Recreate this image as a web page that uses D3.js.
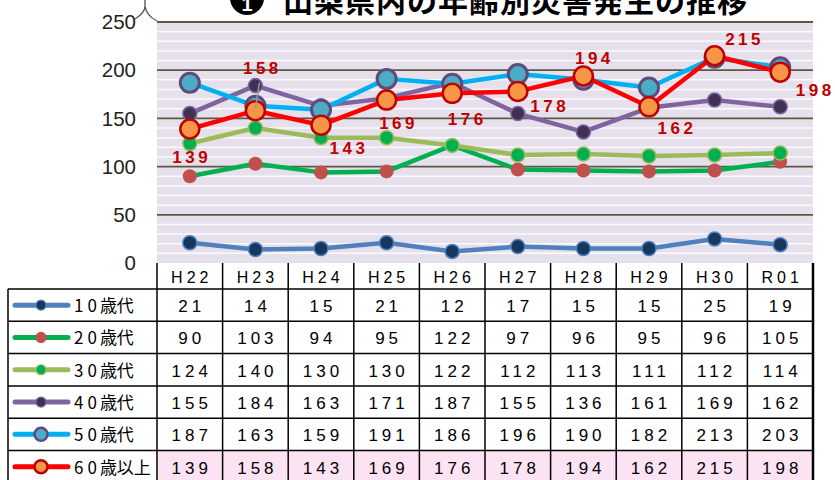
<!DOCTYPE html>
<html>
<head>
<meta charset="utf-8">
<script src="https://cdn.jsdelivr.net/npm/d3@7"></script>
<style>
body { margin: 0; background: #fff; }
svg { display: block; }
</style>
</head>
<body>
<script>
// データ
const years = ["H22", "H23", "H24", "H25", "H26", "H27", "H28", "H29", "H30", "R01"];
const ages = ["10", "20", "30", "40", "50", "60"];
const suffix = ["歳代", "歳代", "歳代", "歳代", "歳代", "歳以上"];
const s10 = [21, 14, 15, 21, 12, 17, 15, 15, 25, 19];
const s20 = [90, 103, 94, 95, 122, 97, 96, 95, 96, 105];
const s30 = [124, 140, 130, 130, 122, 112, 113, 111, 112, 114];
const s40 = [155, 184, 163, 171, 187, 155, 136, 161, 169, 162];
const s50 = [187, 163, 159, 191, 186, 196, 190, 182, 213, 203];
const s60 = [139, 158, 143, 169, 176, 178, 194, 162, 215, 198];
const yTicks = [0, 50, 100, 150, 200, 250];

const width = 835, height = 480;
const plotL = 157, plotR = 813, plotT = 22, plotB = 263;
const rowH = 32.3, headH = 26;

// 系列の見た目
const styles = [
  { line: "#4f81bd", fill: "#17375e", stroke: "#4f81bd", r: 7, sw: 1.5, lw: 4.5 },
  { line: "#00b050", fill: "#c0504d", stroke: "#c0504d", r: 7, sw: 0, lw: 4.5 },
  { line: "#9bbb59", fill: "#00b050", stroke: "#9bbb59", r: 7, sw: 1.5, lw: 4.5 },
  { line: "#8064a2", fill: "#3f3151", stroke: "#8064a2", r: 7, sw: 1.5, lw: 4.5 },
  { line: "#00b0f0", fill: "#4bacc6", stroke: "#604a7b", r: 9.5, sw: 3, lw: 4.5 },
  { line: "#ff0000", fill: "#f79646", stroke: "#c00000", r: 9.5, sw: 2.5, lw: 4.5 }
];
const series = [s10, s20, s30, s40, s50, s60];

// 60歳以上ラベルのずらし
const labelOff = [[0, 28], [5, -43], [26, 23], [10, 23], [13, 26], [30, 15], [9, -18], [26, 21], [28, -17], [33, 18]];

const svg = d3.select("body").append("svg")
    .attr("width", width)
    .attr("height", height);

const x = d3.scaleBand().domain(years).range([plotL, plotR]);
const y = d3.scaleLinear().domain([0, 250]).range([plotB, plotT]);

// 背景
svg.append("rect")
    .attr("x", plotL).attr("y", plotT)
    .attr("width", plotR - plotL).attr("height", plotB - plotT)
    .attr("fill", "#e5e0eb");

// 細いグリッド
svg.append("g").selectAll("line")
    .data(d3.range(10, 250, 10).filter(v => v % 50 !== 0))
    .enter().append("line")
    .attr("x1", plotL).attr("x2", plotR)
    .attr("y1", d => y(d)).attr("y2", d => y(d))
    .attr("stroke", "#fbfafc").attr("stroke-width", 1.5);

// 主グリッド
svg.append("g").selectAll("line")
    .data(yTicks.filter(v => v > 0))
    .enter().append("line")
    .attr("x1", plotL).attr("x2", plotR)
    .attr("y1", d => y(d)).attr("y2", d => y(d))
    .attr("stroke", "#5e5842").attr("stroke-width", 1.8);

// Y軸
const yAxis = svg.append("g")
    .attr("transform", `translate(${plotL - 21},0)`)
    .call(d3.axisLeft(y).tickValues(yTicks).tickSize(0).tickPadding(0));
yAxis.select(".domain").remove();
yAxis.selectAll("text")
    .attr("font-family", "'Liberation Sans', Arial, sans-serif")
    .attr("font-size", 21)
    .attr("textLength", d => String(d).length * 11.4)
    .attr("lengthAdjust", "spacingAndGlyphs")
    .attr("fill", "#222");

// 単位の欠け
svg.append("path")
    .attr("d", "M145,0 L145,6 C145,12 140,16 135,19 M145,6 C146,13 151,18 157,21")
    .attr("fill", "none").attr("stroke", "#555").attr("stroke-width", 1.3);

// タイトル
svg.append("circle").attr("cx", 247).attr("cy", -2).attr("r", 17).attr("fill", "#000");
svg.append("text").attr("x", 247).attr("y", 11)
    .attr("text-anchor", "middle").attr("fill", "#fff")
    .attr("font-family", "Arial, sans-serif").attr("font-weight", "bold").attr("font-size", 20)
    .text("1");
svg.append("text").attr("x", 283).attr("y", 12)
    .attr("font-family", "'Noto Sans CJK JP', sans-serif").attr("font-weight", "bold")
    .attr("font-size", 30).attr("letter-spacing", 1)
    .attr("fill", "#000")
    .text("山梨県内の年齢別災害発生の推移");

// 折れ線
const cx = (d, i) => x(years[i]) + x.bandwidth() / 2;
series.forEach((s, k) => {
  const st = styles[k];
  const line = d3.line().x((d, i) => cx(d, i)).y(d => y(d));
  svg.append("path").datum(s)
      .attr("d", line)
      .attr("fill", "none")
      .attr("stroke", st.line)
      .attr("stroke-width", st.lw)
      .attr("stroke-linejoin", "round");
  svg.append("g").selectAll("circle")
      .data(s).enter().append("circle")
      .attr("cx", cx).attr("cy", d => y(d))
      .attr("r", st.r)
      .attr("fill", st.fill)
      .attr("stroke", st.stroke)
      .attr("stroke-width", st.sw);
});

// 158 の引き出し線
svg.append("line")
    .attr("x1", cx(0, 1) + 4).attr("y1", y(s60[1]) - 28)
    .attr("x2", cx(0, 1)).attr("y2", y(s60[1]) - 2)
    .attr("stroke", "#999").attr("stroke-width", 1.5);

// 60歳以上ラベル
svg.append("g").selectAll("text")
    .data(s60).enter().append("text")
    .attr("x", (d, i) => cx(d, i) + labelOff[i][0] + 2)
    .attr("y", (d, i) => y(d) + labelOff[i][1])
    .attr("dy", "0.35em")
    .attr("text-anchor", "middle")
    .attr("font-family", "'Liberation Sans', Arial, sans-serif")
    .attr("font-weight", "bold").attr("font-size", 17)
    .attr("letter-spacing", 3.5)
    .attr("fill", "#c00000")
    .text(d => d);

// データ表
const tbl = svg.append("g");
const rowTop = plotB + headH;
const legL = 8;

tbl.append("rect")
    .attr("x", plotL).attr("y", rowTop + rowH * 5)
    .attr("width", plotR - plotL).attr("height", height - rowTop - rowH * 5)
    .attr("fill", "#fce3f4");

// 見出し
tbl.selectAll(".head").data(years).enter().append("text")
    .attr("x", d => x(d) + x.bandwidth() / 2 + 2)
    .attr("y", plotB + headH / 2 + 1)
    .attr("dy", "0.35em")
    .attr("text-anchor", "middle")
    .attr("font-family", "'Liberation Sans', Arial, sans-serif")
    .attr("font-size", 16).attr("letter-spacing", 4)
    .attr("fill", "#000")
    .text(d => d);

// 罫線
tbl.selectAll(".vl").data(years.concat(["end"])).enter().append("line")
    .attr("x1", (d, i) => plotL + i * x.bandwidth())
    .attr("x2", (d, i) => plotL + i * x.bandwidth())
    .attr("y1", plotB).attr("y2", height)
    .attr("stroke", "#000").attr("stroke-width", (d, i) => i === years.length ? 2.5 : 1.5);
tbl.append("line").attr("x1", legL).attr("x2", legL)
    .attr("y1", rowTop).attr("y2", height)
    .attr("stroke", "#000").attr("stroke-width", 1.5);
tbl.selectAll(".hl").data(d3.range(6)).enter().append("line")
    .attr("x1", legL).attr("x2", plotR)
    .attr("y1", d => rowTop + d * rowH).attr("y2", d => rowTop + d * rowH)
    .attr("stroke", "#000").attr("stroke-width", 1.5);

// 凡例と数値
series.forEach((s, k) => {
  const st = styles[k];
  const yc = rowTop + k * rowH + rowH / 2;
  tbl.append("line")
      .attr("x1", 15).attr("x2", 68).attr("y1", yc).attr("y2", yc)
      .attr("stroke", st.line).attr("stroke-width", 5).attr("stroke-linecap", "round");
  tbl.append("circle")
      .attr("cx", 41).attr("cy", yc)
      .attr("r", k >= 4 ? 6.5 : 5)
      .attr("fill", st.fill).attr("stroke", st.stroke)
      .attr("stroke-width", k >= 4 ? 2.5 : 1.2);
  const lab = tbl.append("text")
      .attr("x", 74).attr("y", yc + 1).attr("dy", "0.35em")
      .attr("font-family", "'Noto Sans CJK JP', sans-serif")
      .attr("font-size", 17)
      .attr("fill", "#000");
  ages[k].split("").forEach((c, j) => {
    lab.append("tspan").attr("dx", j === 0 ? 0 : 4).text(c);
  });
  lab.append("tspan").attr("dx", 3).text(suffix[k]);
  tbl.append("g").selectAll("text")
      .data(s).enter().append("text")
      .attr("x", (d, i) => cx(d, i) + 2)
      .attr("y", yc + 1).attr("dy", "0.35em")
      .attr("text-anchor", "middle")
      .attr("font-family", "'Liberation Sans', Arial, sans-serif")
      .attr("font-size", 17).attr("letter-spacing", 4)
      .attr("fill", "#000")
      .text(d => d);
});
</script>
</body>
</html>
